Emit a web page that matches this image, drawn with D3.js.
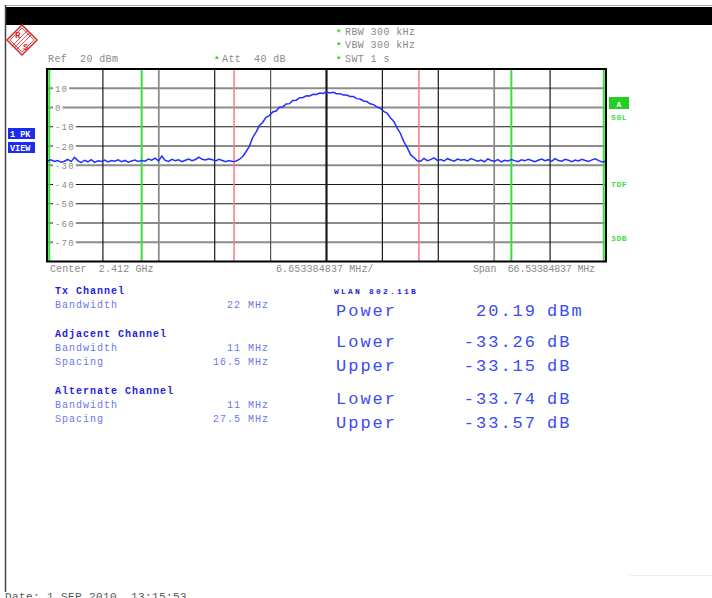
<!DOCTYPE html>
<html>
<head>
<meta charset="utf-8">
<script src="https://cdn.jsdelivr.net/npm/d3@7"></script>
<style>
body { margin: 0; background: #fff; }
svg text { font-family: "Liberation Mono", "Courier New", monospace; white-space: pre; }
</style>
</head>
<body>
<svg id="chart" width="712" height="598"></svg>
<script>
// analyzer settings
var refLevel = 20;                 // dBm, top of screen
var rangeDb = 100;                 // 10 dB / div
var yTicks = [10, 0, -10, -20, -30, -40, -50, -60, -70];
var centerGHz = "2.412";
var spanMHz = 66.53384837;
var divLabel = "6.653384837 MHz/";

// trace samples, offset from centre in MHz
var traceStartMHz = -33.2;
var traceStepMHz = 0.4;
var traceLevel = [
  -27.8, -27.2, -28.0, -27.5, -28.4, -27.9, -27.0, -28.1, -25.9, -27.6,
  -28.6, -27.4, -28.2, -27.1, -28.5, -27.7, -28.0, -27.3, -28.3, -27.6,
  -27.9, -27.2, -28.1, -27.5, -28.4, -27.8, -27.3, -28.0, -27.6, -27.9,
  -26.8, -27.4, -26.3, -27.7, -25.2, -27.5, -28.0, -26.9, -27.6, -27.2,
  -28.1, -27.4, -26.8, -27.6, -27.0, -25.8, -26.9, -27.3, -26.6, -27.1,
  -27.8, -26.9, -27.5, -28.2, -27.6, -28.0,
  // channel
  -27.9, -27.0, -25.6, -23.1, -20.3, -15.7, -12.9, -9.5, -7.8, -5.1,
  -4.2, -2.3, -1.8, 0.1, 0.3, 1.8, 2.0, 3.6, 3.8, 5.1,
  5.2, 6.1, 6.0, 6.9, 6.8, 7.5, 7.3, 8.1, 7.6, 7.9,
  7.2, 7.2, 6.5, 6.5, 5.7, 5.7, 4.6, 4.4, 3.4, 3.1,
  1.9, 1.5, 0.3, -0.4, -2.0, -2.9, -5.3, -7.1, -10.6, -13.5,
  -17.7, -20.7, -24.5, -26.0, -27.7,
  // upper side
  -27.9, -26.4, -27.6, -27.1, -26.2, -27.5, -27.0, -27.8, -26.6, -27.3,
  -27.9, -26.8, -27.4, -27.0, -27.7, -26.5, -27.2, -27.9, -27.3, -28.2,
  -26.7, -27.5, -27.9, -27.1, -28.3, -27.4, -27.8, -27.0, -27.6, -28.1,
  -27.2, -27.7, -26.9, -27.5, -28.2, -27.4, -26.8, -27.6, -27.1, -28.0,
  -26.6, -27.5, -27.9, -26.9, -27.4, -28.1, -27.3, -27.8, -26.9, -27.5,
  -28.0, -27.2, -26.7, -27.6, -28.3, -27.9
];

// channel setup (MHz)
var txBandwidth = 22;
var adjBandwidth = 11, adjSpacing = 16.5;
var altBandwidth = 11, altSpacing = 27.5;

var tableHeads = ["Tx Channel", "Adjacent Channel", "Alternate Channel"];
var tableRows = [
  [["Bandwidth", "22 MHz"]],
  [["Bandwidth", "11 MHz"], ["Spacing", "16.5 MHz"]],
  [["Bandwidth", "11 MHz"], ["Spacing", "27.5 MHz"]]
];

var standardName = "WLAN 802.11B";
var resultLabels = ["Power", "Lower", "Upper", "Lower", "Upper"];
var resultValues = ["20.19", "-33.26", "-33.15", "-33.74", "-33.57"];
var resultUnits = ["dBm", "dB", "dB", "dB", "dB"];

var svg = d3.select("#chart");
var plotL = 47, plotR = 606, plotT = 69, plotB = 261.5;

var xScale = d3.scaleLinear()
  .domain([-spanMHz / 2, spanMHz / 2])
  .range([plotL, plotR]);
var yScale = d3.scaleLinear()
  .domain([refLevel - rangeDb, refLevel])
  .range([plotB, plotT]);

// page frame
svg.append("rect").attr("width", 712).attr("height", 598).attr("fill", "#fff");
svg.append("line").attr("x1", 5).attr("x2", 712).attr("y1", 5.5).attr("y2", 5.5)
  .attr("stroke", "#aaa").attr("stroke-width", 1);
svg.append("rect").attr("x", 5).attr("y", 7).attr("width", 707).attr("height", 18).attr("fill", "#000");
svg.append("line").attr("x1", 5.5).attr("x2", 5.5).attr("y1", 5).attr("y2", 592)
  .attr("stroke", "#444").attr("stroke-width", 1.5);
svg.append("line").attr("x1", 630).attr("x2", 712).attr("y1", 575.5).attr("y2", 575.5)
  .attr("stroke", "#eee").attr("stroke-width", 1);

// R&S logo
var logo = svg.append("g").attr("transform", "translate(22,40)");
logo.append("path").attr("d", "M0,-15 L15,0 L0,15 L-15,0 Z")
  .attr("fill", "none").attr("stroke", "#d42a2a").attr("stroke-width", 1.5);
logo.append("path").attr("d", "M0,-12 L12,0 L0,12 L-12,0 Z")
  .attr("fill", "none").attr("stroke", "#d42a2a").attr("stroke-width", 0.8);
[-2, 0, 2].forEach(function(t) {
  logo.append("line")
    .attr("x1", t - 7).attr("y1", t + 7).attr("x2", t + 7).attr("y2", t - 7)
    .attr("stroke", "#d42a2a").attr("stroke-width", 0.8);
});
logo.append("text").attr("x", -7).attr("y", -2).text("R")
  .attr("font-size", 9).attr("font-weight", "bold").attr("fill", "#d42a2a");
logo.append("text").attr("x", 1).attr("y", 10).text("S")
  .attr("font-size", 9).attr("font-weight", "bold").attr("fill", "#d42a2a");

// header text
function headText(x, y, s) {
  return svg.append("text").attr("x", x).attr("y", y).text(s)
    .attr("font-size", 10).attr("letter-spacing", 0.4).attr("fill", "#8a8a8a");
}
function star(x, y) {
  svg.append("text").attr("x", x).attr("y", y + 1).text("*")
    .attr("font-size", 9).attr("font-weight", "bold").attr("fill", "#2bd42b");
}
headText(48, 62, "Ref  " + refLevel + " dBm");
star(214, 62); headText(222, 62, "Att  40 dB");
star(336, 35); headText(345, 35, "RBW 300 kHz");
star(336, 48); headText(345, 48, "VBW 300 kHz");
star(336, 62); headText(345, 62, "SWT 1 s");

// horizontal grid
var grayLevels = [10, 0, -30, -60, -70];
svg.append("g").selectAll("line")
  .data(yTicks)
  .enter().append("line")
  .attr("x1", plotL).attr("x2", plotR)
  .attr("y1", function(d) { return yScale(d); })
  .attr("y2", function(d) { return yScale(d); })
  .attr("stroke", function(d) { return grayLevels.indexOf(d) >= 0 ? "#8c8c8c" : "#1a1a1a"; })
  .attr("stroke-width", function(d) { return grayLevels.indexOf(d) >= 0 ? 1.8 : 1.2; });

// vertical grid (10 divisions)
var divs = d3.range(1, 10);
svg.append("g").selectAll("line")
  .data(divs)
  .enter().append("line")
  .attr("x1", function(d) { return xScale(-spanMHz / 2 + d * spanMHz / 10); })
  .attr("x2", function(d) { return xScale(-spanMHz / 2 + d * spanMHz / 10); })
  .attr("y1", plotT).attr("y2", plotB)
  .attr("stroke", function(d) { return (d === 2 || d === 8) ? "#8c8c8c" : (d === 4 ? "#555" : "#1a1a1a"); })
  .attr("stroke-width", function(d) { return d === 5 ? 2.2 : (d === 2 || d === 8 ? 1.8 : 1.2); });

// y labels sit on the grid lines with a white gap
var yLab = svg.append("g").selectAll("g")
  .data(yTicks)
  .enter().append("g");
yLab.append("rect")
  .attr("x", 53).attr("y", function(d) { return yScale(d) - 4; })
  .attr("width", function(d) { return String(d).length * 6.6 + 3; })
  .attr("height", 8).attr("fill", "#fff");
yLab.append("text")
  .attr("x", 55).attr("y", function(d) { return yScale(d) + 3.5; })
  .text(function(d) { return d; })
  .attr("font-size", 9).attr("letter-spacing", 1.2).attr("fill", "#8a8a8a");

// channel markers
var markers = [
  { f: -(altSpacing + altBandwidth / 2), c: "#3ddc3d", w: 2 },
  { f: -(adjSpacing + adjBandwidth / 2), c: "#3ddc3d", w: 2 },
  { f: -txBandwidth / 2, c: "#ff7a7a", w: 1.5 },
  { f: txBandwidth / 2, c: "#ff7a7a", w: 1.5 },
  { f: adjSpacing + adjBandwidth / 2, c: "#3ddc3d", w: 2 },
  { f: altSpacing + altBandwidth / 2, c: "#3ddc3d", w: 2 }
];
svg.append("g").selectAll("line")
  .data(markers)
  .enter().append("line")
  .attr("x1", function(d) { return xScale(d.f); })
  .attr("x2", function(d) { return xScale(d.f); })
  .attr("y1", plotT).attr("y2", plotB)
  .attr("stroke", function(d) { return d.c; })
  .attr("stroke-width", function(d) { return d.w; });

// trace
var line = d3.line()
  .x(function(d, i) { return xScale(traceStartMHz + i * traceStepMHz); })
  .y(function(d) { return yScale(d); });
svg.append("path")
  .datum(traceLevel)
  .attr("d", line)
  .attr("fill", "none")
  .attr("stroke", "#1f30ff")
  .attr("stroke-width", 1.5)
  .attr("stroke-linejoin", "miter");

// plot frame
svg.append("rect")
  .attr("x", plotL).attr("y", plotT)
  .attr("width", plotR - plotL).attr("height", plotB - plotT)
  .attr("fill", "none").attr("stroke", "#000").attr("stroke-width", 2);

// left side trace boxes
["1 PK", "VIEW"].forEach(function(s, i) {
  var y0 = 128 + i * 14;
  svg.append("rect").attr("x", 8).attr("y", y0).attr("width", 27).attr("height", 11).attr("fill", "#1a2cf0");
  svg.append("text").attr("x", 10).attr("y", y0 + 8.5).text(s)
    .attr("font-size", 8.5).attr("font-weight", "bold").attr("fill", "#fff");
});

// right side status
svg.append("rect").attr("x", 609).attr("y", 97).attr("width", 20).attr("height", 12).attr("fill", "#22d022");
svg.append("text").attr("x", 619).attr("y", 106.5).text("A").attr("text-anchor", "middle")
  .attr("font-size", 8).attr("font-weight", "bold").attr("fill", "#fff");
[["SGL", 120], ["TDF", 187], ["3DB", 241]].forEach(function(d) {
  svg.append("text").attr("x", 611).attr("y", d[1]).text(d[0])
    .attr("font-size", 8).attr("font-weight", "bold").attr("letter-spacing", 0.6).attr("fill", "#3ddc3d");
});

// x axis captions
headText(50, 272, "Center  " + centerGHz + " GHz").attr("letter-spacing", 0.1);
headText(276, 272, divLabel).attr("letter-spacing", 0.1);
headText(473, 272, "Span  " + spanMHz.toFixed(8) + " MHz").attr("letter-spacing", -0.2);

// channel table
var ty = 294;
tableHeads.forEach(function(h, g) {
  svg.append("text").attr("x", 55).attr("y", ty).text(h)
    .attr("font-size", 10).attr("font-weight", "bold").attr("letter-spacing", 1)
    .attr("fill", "#2323d8");
  tableRows[g].forEach(function(r) {
    ty += 14;
    svg.append("text").attr("x", 55).attr("y", ty).text(r[0])
      .attr("font-size", 10).attr("letter-spacing", 1).attr("fill", "#6b78e8");
    svg.append("text").attr("x", 269).attr("y", ty).text(r[1]).attr("text-anchor", "end")
      .attr("font-size", 10).attr("letter-spacing", 1).attr("fill", "#6b78e8");
  });
  ty += 29;
});

// results
svg.append("text").attr("x", 334).attr("y", 294).text(standardName)
  .attr("font-size", 8).attr("font-weight", "bold").attr("letter-spacing", 2.2).attr("fill", "#2323d8");
resultLabels.forEach(function(lab, i) {
  var y0 = i === 0 ? 316 : 347 + Math.floor((i - 1) / 2) * 57 + ((i - 1) % 2) * 23.5;
  svg.append("text").attr("x", 336).attr("y", y0).text(lab)
    .attr("font-size", 17).attr("letter-spacing", 2).attr("fill", "#3a4cf2");
  svg.append("text").attr("x", 537).attr("y", y0).text(resultValues[i]).attr("text-anchor", "end")
    .attr("font-size", 17).attr("letter-spacing", 2).attr("fill", "#3a4cf2");
  svg.append("text").attr("x", 547).attr("y", y0).text(resultUnits[i])
    .attr("font-size", 17).attr("letter-spacing", 2).attr("fill", "#3a4cf2");
});

// footer (cut by the bottom edge, as on the original screen shot)
svg.append("text").attr("x", 5).attr("y", 600).text("Date: 1.SEP.2010  13:15:53")
  .attr("font-size", 11).attr("letter-spacing", 0.4).attr("fill", "#555");
</script>
</body>
</html>
